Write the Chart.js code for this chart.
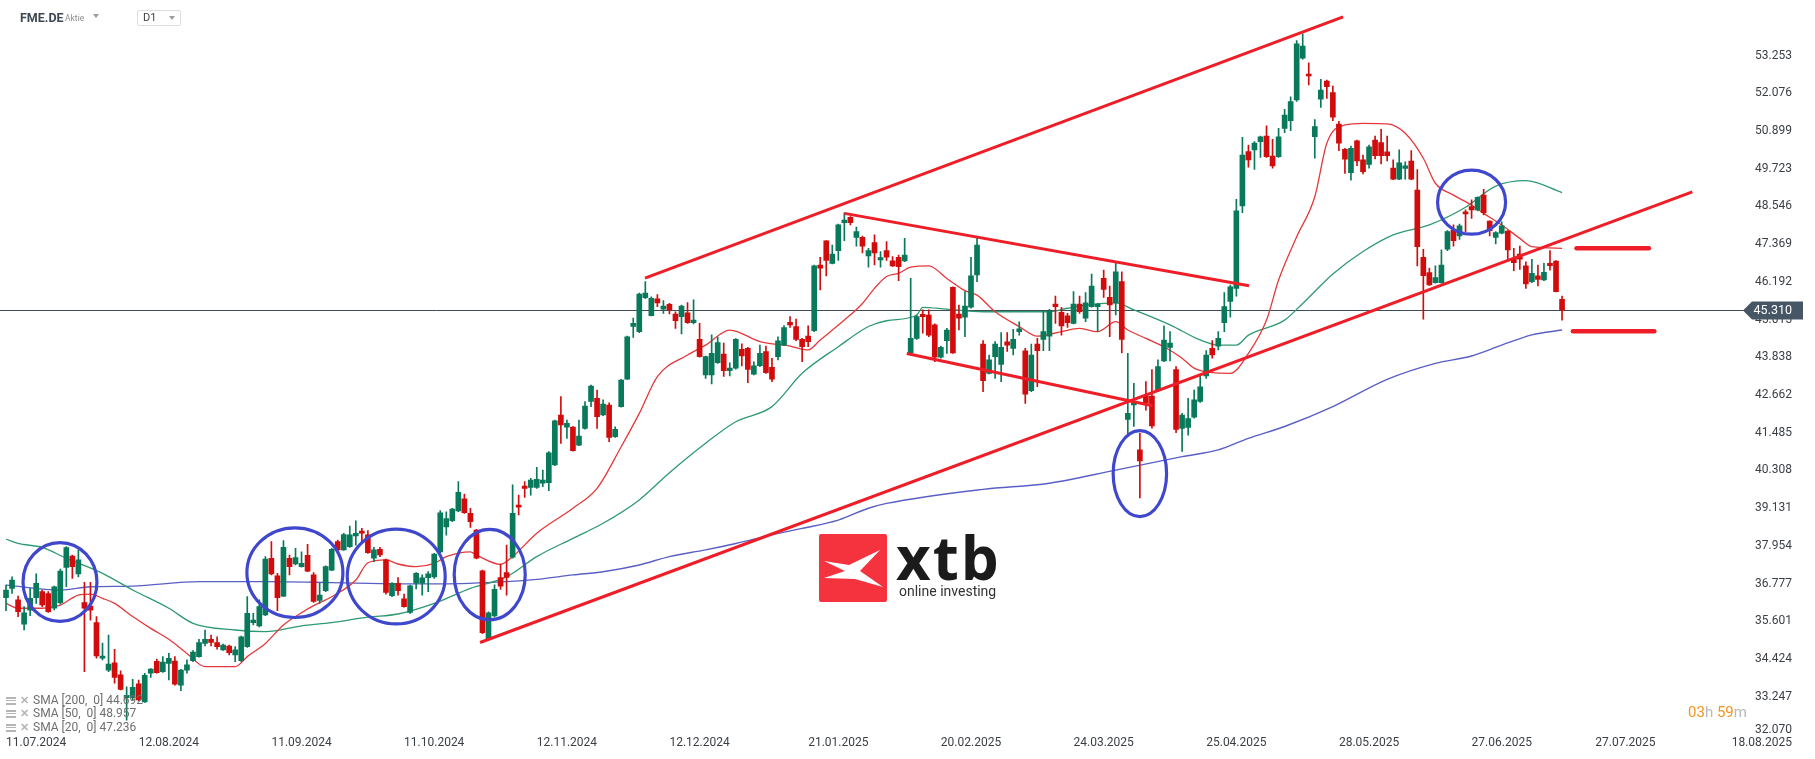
<!DOCTYPE html>
<html><head><meta charset="utf-8">
<script src="https://cdn.jsdelivr.net/npm/chart.js@4.4.1/dist/chart.umd.min.js"></script>
<style>
html,body{margin:0;padding:0;background:#fff;}
#wrap{position:relative;width:1815px;height:759px;overflow:hidden;font-family:Roboto,"Noto Sans",sans-serif;}
#c{position:absolute;left:0;top:0;}
.abs{position:absolute;white-space:nowrap;}
.tri{position:absolute;width:0;height:0;border-left:3.5px solid transparent;border-right:3.5px solid transparent;border-top:4px solid #9c9c9c;}
.leg{position:absolute;left:6px;font-size:12px;color:#6f6f6f;line-height:14px;white-space:nowrap;}
.leg .ic{display:inline-block;width:10px;height:8px;vertical-align:middle;margin-right:4px;background:linear-gradient(#b5b5b5 0 2px,transparent 2px 3px,#b5b5b5 3px 4px,transparent 4px 6px,#b5b5b5 6px 8px);}
.leg .x{display:inline-block;color:#b5b5b5;font-weight:bold;font-size:11px;margin-right:4px;vertical-align:middle;}
</style></head>
<body><div id="wrap">
<canvas id="c" width="1815" height="759"></canvas>
<div class="abs" style="left:20px;top:10px;font-size:12.5px;font-weight:700;color:#3d4852;">FME.DE</div>
<div class="abs" style="left:65px;top:13px;font-size:8.5px;color:#8c8c8c;">Aktie</div>
<div class="tri" style="left:93px;top:14px;"></div>
<div class="abs" style="left:137px;top:10px;width:42px;height:14px;border:1px solid #dedede;border-radius:2px;"></div>
<div class="abs" style="left:143px;top:11px;font-size:11px;color:#444;">D1</div>
<div class="tri" style="left:169px;top:16px;"></div>
<div class="leg" style="top:693px;"><span class="ic"></span><span class="x">✕</span>SMA [200,&nbsp; 0] 44.692</div>
<div class="leg" style="top:706px;"><span class="ic"></span><span class="x">✕</span>SMA [50,&nbsp; 0] 48.957</div>
<div class="leg" style="top:720px;"><span class="ic"></span><span class="x">✕</span>SMA [20,&nbsp; 0] 47.236</div>
<div class="abs" style="left:1688px;top:703px;font-size:15px;"><span style="color:#f7931e">03</span><span style="color:#b8b8b8">h</span> <span style="color:#f7931e">59</span><span style="color:#b8b8b8">m</span></div>
<div class="abs" style="left:819px;top:534px;width:68px;height:68px;">
<svg width="68" height="68" viewBox="0 0 68 68"><rect width="68" height="68" rx="2" fill="#f4333f"/><path d="M5 27 L30 31 L61 16 L41 37 L64 53 L36 45 L5 44 L26 37 Z" fill="#fff"/></svg></div>
<div class="abs" style="left:896px;top:522px;font-family:'Open Sans',Roboto,sans-serif;font-weight:700;font-size:60px;letter-spacing:2px;color:#1b1b1b;line-height:70px;">xtb</div>
<div class="abs" style="left:899px;top:583px;font-size:14px;color:#333;line-height:17px;">online investing</div>
</div>
<script>
// ---------- data ----------
const startDate = [2024, 6, 4];           // 04.07.2024
const slotCount = 289;                     // trading days + empty future slots
const holidays = ['24.12.2024','25.12.2024','26.12.2024','31.12.2024','01.01.2025','18.04.2025','21.04.2025','01.05.2025'];
const xTickLabels = ['11.07.2024','12.08.2024','11.09.2024','11.10.2024','12.11.2024','12.12.2024','21.01.2025','20.02.2025','24.03.2025','25.04.2025','28.05.2025','27.06.2025','27.07.2025','18.08.2025'];
const yTickLabels = ['53.253','52.076','50.899','49.723','48.546','47.369','46.192','45.015','43.838','42.662','41.485','40.308','39.131','37.954','36.777','35.601','34.424','33.247','32.070'];

const opens = [36.34,36.63,36.27,35.51,35.95,36.34,36.53,36.47,36.01,36.18,
37.28,37.64,37.08,36.19,36.08,35.56,34.45,34.08,34.31,33.93,
33.22,33.22,33.65,33.09,33.98,34.35,34.03,34.29,34.36,33.61,
34.08,34.37,34.50,34.91,35.04,34.94,34.71,34.83,34.55,34.37,
34.81,35.56,35.46,35.80,37.57,37.02,36.39,37.57,37.39,37.31,
37.66,37.05,36.25,36.56,37.20,38.09,37.83,37.93,38.27,38.42,
38.30,37.57,37.85,37.52,36.40,36.79,36.30,35.88,36.79,36.79,
36.96,36.99,37.77,38.55,38.74,39.05,39.42,38.97,38.45,37.18,
35.04,35.77,36.97,37.12,37.60,39.23,39.82,39.78,39.78,39.91,
39.93,40.48,42.04,41.66,41.66,41.10,41.62,42.46,42.56,42.04,
42.35,41.36,42.30,43.16,44.80,44.64,45.70,45.14,45.66,45.34,
45.49,45.19,45.11,45.23,44.92,44.40,43.29,43.29,43.67,43.94,
43.42,43.50,44.09,44.12,43.31,43.58,44.02,43.53,43.86,44.22,
44.93,44.80,44.40,44.50,44.67,46.72,47.47,46.77,47.17,48.04,
48.21,47.58,47.58,47.00,47.42,46.88,47.17,46.85,46.96,46.85,
43.98,44.43,45.18,45.16,44.85,43.84,44.36,46.02,45.19,45.09,
45.40,46.41,44.25,43.34,43.86,43.62,44.32,44.12,44.64,44.04,
42.80,44.25,44.40,44.50,45.50,45.24,45.13,44.90,45.50,45.06,
45.42,45.42,46.30,45.71,45.54,46.20,41.90,42.35,40.95,42.63,
42.63,42.80,43.73,44.15,43.46,41.62,41.65,41.97,42.46,43.26,
44.12,44.19,44.92,45.58,45.99,48.56,50.26,50.31,50.57,50.74,
50.12,50.10,50.98,51.22,51.87,53.17,52.68,50.72,51.89,52.46,
52.10,51.12,50.33,49.60,50.59,50.00,49.86,50.62,50.54,50.25,
49.74,49.40,49.73,49.96,49.06,46.96,46.48,46.17,46.17,47.21,
47.81,47.63,48.38,48.54,48.44,48.90,48.09,47.58,47.71,47.78,
46.93,47.06,46.69,46.20,46.38,46.25,46.77,46.84,45.65];
const highs = [36.73,36.99,36.39,36.06,36.63,37.08,36.58,36.53,36.70,37.23,
37.93,37.67,37.83,36.82,36.82,35.75,34.92,35.17,34.73,34.06,
33.56,33.79,33.77,33.98,34.13,34.42,34.50,34.60,34.50,34.10,
34.40,34.69,35.04,35.33,35.17,35.12,34.89,34.86,34.81,35.14,
36.37,35.85,36.27,37.62,38.09,37.10,38.12,37.67,37.88,37.77,
38.00,37.12,36.79,37.33,37.88,38.14,38.35,38.57,38.74,38.50,
38.43,37.91,37.91,37.54,36.81,36.97,36.45,36.73,37.12,37.05,
37.15,37.72,39.06,39.02,39.13,39.96,39.57,39.13,38.47,37.20,
35.90,36.74,37.39,37.98,39.86,39.54,39.96,40.06,40.41,40.32,
40.90,41.88,42.61,41.88,41.68,41.88,42.46,42.97,42.82,42.51,
42.42,41.67,43.15,44.50,45.06,45.84,46.20,45.73,45.80,45.61,
45.52,45.26,45.47,45.55,45.63,44.90,43.88,44.54,44.48,44.28,
43.67,44.42,44.26,44.15,43.70,44.22,44.19,43.81,44.48,44.83,
45.11,45.03,44.43,44.82,46.72,46.96,47.48,47.34,48.00,48.35,
48.23,47.90,47.62,47.24,47.66,47.14,47.45,46.98,47.03,47.55,
46.30,45.16,45.32,45.32,44.88,44.19,44.74,46.04,45.47,45.89,
46.96,47.55,44.36,43.91,44.33,44.61,44.61,44.71,44.95,44.12,
44.25,44.43,45.29,45.34,45.75,45.40,45.21,45.89,45.75,45.86,
46.44,45.52,46.56,46.06,46.79,46.51,43.96,43.03,41.47,43.08,
43.46,43.76,44.82,44.64,43.55,42.09,42.56,42.82,43.29,44.05,
44.36,44.64,45.86,46.09,48.77,50.70,50.46,50.57,50.74,51.06,
50.64,50.98,51.58,51.97,53.72,53.93,53.03,51.26,52.51,52.49,
52.30,51.20,50.36,50.43,50.62,50.15,50.46,50.74,50.95,50.74,
50.00,50.31,49.94,50.29,49.70,47.21,46.62,46.69,47.19,47.79,
47.97,48.00,48.44,48.75,48.85,49.08,48.10,47.76,48.07,47.79,
47.24,47.31,46.82,46.90,46.72,46.77,47.17,46.86,45.75];
const lows = [35.93,36.47,35.75,35.33,35.78,36.16,36.06,35.88,35.96,36.14,
36.68,36.94,36.99,34.03,35.64,34.45,34.40,34.03,33.67,33.46,
32.52,33.15,33.12,33.07,33.85,33.98,34.01,33.77,33.61,33.44,
33.98,34.34,34.48,34.83,34.83,34.73,34.69,34.55,34.34,34.34,
34.79,35.49,35.43,35.78,37.05,35.93,36.37,37.05,37.36,37.29,
37.15,36.19,36.16,36.53,37.18,37.81,37.81,37.91,37.98,38.09,
37.72,37.46,37.62,36.45,36.37,36.42,36.04,35.85,36.61,36.42,
36.53,36.94,37.74,38.29,38.71,39.02,38.97,38.53,37.55,35.22,
35.02,35.75,36.60,36.42,37.57,38.92,39.47,39.54,39.75,39.80,
39.68,40.46,41.15,41.31,40.91,41.08,41.60,42.30,41.62,42.02,
41.21,41.34,42.28,43.15,44.46,44.61,45.67,45.13,45.42,45.21,
45.19,44.74,44.57,44.90,44.88,43.84,43.18,43.01,43.65,43.24,
43.26,43.47,43.57,43.05,43.29,43.55,43.34,43.08,43.76,44.20,
44.77,44.36,43.70,44.17,44.64,45.94,46.38,46.75,46.86,47.48,
47.97,47.31,47.10,46.65,46.72,46.65,46.86,46.67,46.23,46.82,
43.96,44.40,44.59,44.48,43.70,43.81,43.96,43.96,44.69,44.48,
45.37,46.20,42.77,43.32,43.18,43.08,44.02,43.91,44.53,42.40,
42.77,42.92,44.05,44.05,44.90,44.53,44.77,44.88,45.21,44.95,
45.40,44.64,45.71,44.48,45.16,43.98,41.41,41.68,39.45,42.19,
41.63,42.77,43.70,43.73,41.49,40.90,41.41,41.94,42.43,43.18,
43.81,44.07,44.64,45.09,45.75,48.35,49.77,49.70,50.08,50.08,
49.74,50.08,50.85,50.91,51.82,53.14,52.34,50.05,51.64,51.92,
51.22,50.29,49.58,49.37,49.82,49.56,49.74,50.03,49.87,49.97,
49.38,49.38,49.40,49.38,46.69,45.03,46.08,46.15,46.15,47.17,
47.31,47.52,47.76,48.17,48.41,48.28,47.63,47.38,47.69,46.90,
46.54,46.58,45.99,46.17,46.07,46.23,46.56,45.88,45.00];
const closes = [36.58,36.89,35.90,35.87,36.32,36.79,36.11,35.90,36.68,37.17,
37.90,37.31,37.52,36.01,35.95,34.52,34.52,34.27,33.85,33.48,
33.29,33.54,33.15,33.92,34.11,34.00,34.33,34.45,33.64,34.08,
34.24,34.64,34.94,35.04,34.94,34.81,34.86,34.62,34.71,35.12,
35.85,35.64,36.06,37.54,37.08,36.34,37.91,37.31,37.59,37.41,
37.17,36.22,36.42,37.31,37.85,37.83,38.31,38.30,38.35,38.35,
37.74,37.83,37.67,36.50,36.79,36.56,36.06,36.71,37.10,36.96,
37.08,37.70,38.99,38.81,39.10,39.63,38.99,38.71,37.57,35.25,
35.87,36.60,36.70,36.97,38.97,39.16,39.75,40.01,40.03,40.01,
40.86,41.86,41.73,41.78,40.93,41.38,42.32,42.94,41.99,42.38,
41.34,41.59,43.13,44.48,44.90,45.81,45.84,45.68,45.54,45.44,
45.32,44.98,45.44,44.92,45.00,43.86,43.86,43.96,44.30,43.42,
43.50,44.40,43.88,43.46,43.57,43.96,43.36,43.16,44.35,44.77,
44.85,44.40,44.17,44.33,46.69,46.62,46.86,47.06,47.97,48.12,
48.04,47.76,47.31,47.17,47.10,46.95,46.96,46.69,46.67,47.03,
44.43,45.11,45.11,44.53,43.84,44.15,44.69,43.98,45.06,45.44,
46.38,47.34,43.11,43.76,44.25,44.15,44.22,44.40,44.73,42.69,
43.91,44.05,44.64,45.28,45.42,44.82,44.92,45.50,45.26,45.54,
46.06,45.50,45.96,45.47,46.51,44.40,42.09,42.40,40.61,42.42,
41.70,43.55,44.38,44.28,41.59,42.04,41.93,42.51,42.92,43.91,
43.91,44.43,45.42,46.04,48.41,50.15,50.00,50.52,50.72,50.10,
49.81,50.72,51.40,51.82,53.62,53.55,52.62,51.04,52.18,52.28,
51.33,50.52,50.02,50.36,49.97,49.63,50.41,50.13,50.13,50.13,
49.40,49.91,49.81,49.40,47.29,46.39,46.10,46.33,46.72,47.76,
47.48,47.94,48.31,48.44,48.83,48.35,47.79,47.73,47.94,47.19,
46.79,46.90,46.13,46.46,46.27,46.49,46.70,45.89,45.31];

// moving averages: [bar index, value]
const sma200 = [[0,36.73],[9,36.58],[14,36.68],[21,36.70],[32,36.84],[43,36.84],[54,36.81],[65,36.77],[72,36.77],[83,36.84],[88,36.91],[94,37.05],[99,37.15],[105,37.36],[110,37.62],[116,37.83],[121,38.03],[127,38.30],[132,38.50],[138,38.76],[143,39.13],[146,39.28],[162,39.72],[173,39.91],[184,40.32],[195,40.74],[201,40.95],[206,41.31],[212,41.68],[220,42.30],[229,43.15],[237,43.65],[243,43.88],[248,44.22],[253,44.54],[258,44.69]];
const sma50 = [[0,38.17],[2,38.03],[6,37.91],[10,37.57],[16,37.10],[21,36.58],[27,36.01],[31,35.54],[38,35.33],[43,35.28],[49,35.46],[54,35.56],[60,35.73],[65,35.83],[71,36.16],[77,36.63],[83,36.99],[88,37.62],[94,38.19],[99,38.66],[105,39.39],[110,40.24],[116,41.16],[121,41.83],[127,42.30],[132,43.34],[138,44.17],[143,44.80],[146,44.98],[151,45.16],[152,45.40],[156,45.34],[162,45.26],[167,45.26],[173,45.26],[176,45.37],[178,45.44],[184,45.54],[187,45.32],[193,44.85],[198,44.38],[201,44.22],[204,44.22],[206,44.53],[212,45.00],[215,45.52],[220,46.44],[225,47.14],[230,47.66],[236,47.97],[242,48.52],[247,49.18],[252,49.35],[258,48.98]];
const sma20 = [[0,36.16],[2,36.01],[6,36.01],[9,36.11],[12,36.42],[14,36.45],[16,36.32],[18,36.16],[21,35.75],[24,35.38],[27,35.04],[30,34.60],[33,34.19],[38,34.19],[40,34.50],[43,34.91],[46,35.49],[49,35.87],[51,36.09],[54,36.37],[58,36.89],[60,37.43],[63,37.52],[65,37.39],[68,37.31],[71,37.41],[73,37.62],[77,37.77],[78,37.67],[82,37.38],[84,37.62],[88,38.35],[94,39.13],[98,39.75],[102,41.05],[105,42.09],[108,43.24],[113,43.91],[116,44.22],[120,44.69],[125,44.33],[130,44.19],[133,44.07],[135,44.38],[139,45.00],[142,45.52],[144,45.99],[146,46.36],[148,46.46],[150,46.65],[153,46.69],[156,46.30],[159,45.92],[161,45.78],[164,45.26],[168,44.80],[171,44.50],[175,44.64],[178,44.74],[181,44.64],[184,44.95],[186,44.69],[189,44.43],[192,44.17],[195,43.81],[197,43.50],[200,43.36],[203,43.34],[206,43.96],[209,45.00],[211,46.25],[214,47.60],[217,48.85],[219,50.52],[222,51.09],[225,51.14],[229,51.12],[232,50.83],[235,50.05],[237,49.27],[240,48.90],[243,48.59],[245,48.33],[248,47.97],[251,47.55],[253,47.29],[258,47.24]];

// drawn annotations in data space: [barIndex1, price1, barIndex2, price2]
const trendLines = [[105.95,46.31,221.7,54.46],[78.6,34.94,279.6,49.0],[139.0,48.33,206.1,46.07],[149.35,43.96,190.1,42.33]];
const levelLines = [[260.4,47.24,272.4],[259.8,44.65,273.3]];
// ellipses: [barIndex, price, radius in bars, radius in price]
const circles = [[8.95,36.83,6.13,1.23],[47.9,37.12,7.96,1.40],[64.7,37.00,8.12,1.48],[80.2,37.06,5.89,1.41],[188.0,40.21,4.43,1.34],[243.0,48.68,5.64,1.00]];

// ---------- build ----------
const pad = n => String(n).padStart(2,'0');
const fmt = d => pad(d.getDate())+'.'+pad(d.getMonth()+1)+'.'+d.getFullYear();
const dates = [];
(function(){ const d = new Date(startDate[0], startDate[1], startDate[2]);
  while (dates.length < slotCount) { const wd = d.getDay(); const s = fmt(d);
    if (wd !== 0 && wd !== 6 && holidays.indexOf(s) < 0) dates.push(s);
    d.setDate(d.getDate()+1); } })();
const toNum = s => { const p = s.split('.'); return +p[2]*10000 + +p[1]*100 + +p[0]; };
function slotOf(label){ const i = dates.indexOf(label); if (i >= 0) return i;
  let k = -1; const t = toNum(label); dates.forEach((s,j)=>{ if (toNum(s) <= t) k = j; }); return k + 0.5; }

const N = closes.length;
const GREEN = '#08795a', RED = '#d20c0c';
const colors = closes.map((c,i)=> c >= opens[i] ? GREEN : RED);
const wickData = closes.map((c,i)=> [lows[i], highs[i]]);
const bodyData = closes.map((c,i)=> [opens[i], c]);
function sparse(pairs){ const a = new Array(N).fill(null); pairs.forEach(p => a[p[0]] = p[1]); return a; }

Chart.defaults.font.family = 'Roboto';

const overlay = {
  id: 'overlay',
  beforeDatasetsDraw(chart){
    const {ctx, chartArea:a, scales:{y}} = chart;
    const py = Math.round(y.getPixelForValue(closes[N-1])) + 0.5;
    ctx.save(); ctx.strokeStyle = '#3e4b58'; ctx.lineWidth = 1;
    ctx.beginPath(); ctx.moveTo(0, py); ctx.lineTo(a.right, py); ctx.stroke(); ctx.restore();
  },
  afterDatasetsDraw(chart){
    const {ctx, scales:{x,y}} = chart;
    const p0 = x.getPixelForValue(0), step = x.getPixelForValue(1) - p0;
    const xAt = i => p0 + i*step;
    const vStep = y.getPixelForValue(0) - y.getPixelForValue(1);
    ctx.save();
    ctx.strokeStyle = '#ee1d27'; ctx.lineWidth = 3; ctx.lineCap = 'butt';
    trendLines.forEach(t => { ctx.beginPath(); ctx.moveTo(xAt(t[0]), y.getPixelForValue(t[1])); ctx.lineTo(xAt(t[2]), y.getPixelForValue(t[3])); ctx.stroke(); });
    ctx.lineWidth = 4.5; ctx.lineCap = 'round';
    levelLines.forEach(t => { const py = y.getPixelForValue(t[1]); ctx.beginPath(); ctx.moveTo(xAt(t[0]), py); ctx.lineTo(xAt(t[2]), py); ctx.stroke(); });
    ctx.strokeStyle = '#3f47cc'; ctx.lineWidth = 3.2;
    circles.forEach(c => { ctx.beginPath(); ctx.ellipse(xAt(c[0]), y.getPixelForValue(c[1]), c[2]*step, c[3]*vStep, 0, 0, Math.PI*2); ctx.stroke(); });
    ctx.restore();
  },
  afterDraw(chart){
    const {ctx, chartArea:a, scales:{x,y}} = chart;
    const p0 = x.getPixelForValue(0), step = x.getPixelForValue(1) - p0;
    ctx.save();
    ctx.font = '12px Roboto'; ctx.fillStyle = '#3a3f45'; ctx.textBaseline = 'middle';
    ctx.textAlign = 'right';
    yTickLabels.forEach(s => { const py = Math.min(y.getPixelForValue(+s), a.bottom - 5); ctx.fillText(s, 1792, py); });
    xTickLabels.forEach((s, k) => {
      if (k === xTickLabels.length - 1) { ctx.textAlign = 'right'; ctx.fillText(s, 1792, 742.5); }
      else { ctx.textAlign = 'center'; ctx.fillText(s, p0 + slotOf(s)*step, 742.5); }
    });
    // current price marker
    const last = closes[N-1];
    const py = Math.round(y.getPixelForValue(last)) + 0.5;
    ctx.fillStyle = '#475664';
    ctx.beginPath(); ctx.moveTo(1743, py); ctx.lineTo(1752, py-9); ctx.lineTo(1803, py-9); ctx.lineTo(1803, py+9); ctx.lineTo(1752, py+9); ctx.closePath(); ctx.fill();
    ctx.fillStyle = '#ffffff'; ctx.textAlign = 'right'; ctx.font = '12.5px Roboto';
    ctx.fillText(last.toFixed(3), 1792, py + 0.5);
    ctx.restore();
  }
};

new Chart(document.getElementById('c'), {
  type: 'bar',
  data: {
    labels: dates,
    datasets: [
      { type:'line', label:'SMA 200', data: sparse(sma200), borderColor:'#5a5fc6', borderWidth:1.4, pointRadius:0, spanGaps:true, cubicInterpolationMode:'monotone', order:5 },
      { type:'line', label:'SMA 50', data: sparse(sma50), borderColor:'#2f9a70', borderWidth:1.3, pointRadius:0, spanGaps:true, cubicInterpolationMode:'monotone', order:4 },
      { type:'line', label:'SMA 20', data: sparse(sma20), borderColor:'#e5383b', borderWidth:1.3, pointRadius:0, spanGaps:true, cubicInterpolationMode:'monotone', order:3 },
      { label:'wick', data: wickData, backgroundColor: colors, barThickness:1, grouped:false, order:2 },
      { label:'body', data: bodyData, backgroundColor: colors, barThickness:5, grouped:false, minBarLength:1, order:1 }
    ]
  },
  options: {
    responsive:false, animation:false, events:[],
    layout:{ padding:{ left:3, right:69, top:0, bottom:24.5 } },
    plugins:{ legend:{display:false}, tooltip:{enabled:false} },
    scales:{
      x:{ type:'category', offset:true, display:false, grid:{display:false} },
      y:{ type:'linear', min:32.07, max:54.988, display:false, grid:{display:false} }
    }
  },
  plugins:[overlay]
});
</script>
</body></html>
